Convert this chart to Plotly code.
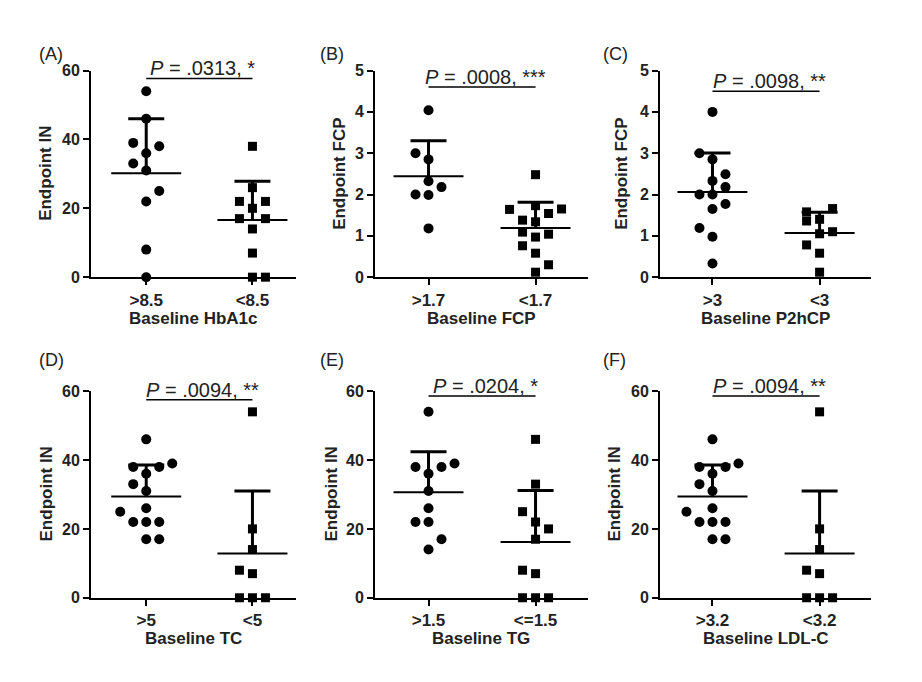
import numpy as np
import plotly.graph_objects as go

# ---------------- data ----------------
panel_labels = ["(A)", "(B)", "(C)", "(D)", "(E)", "(F)"]
x_titles = ["Baseline HbA1c", "Baseline FCP", "Baseline P2hCP",
            "Baseline TC", "Baseline TG", "Baseline LDL-C"]
y_titles = ["Endpoint IN", "Endpoint FCP", "Endpoint FCP",
            "Endpoint IN", "Endpoint IN", "Endpoint IN"]
p_texts = ["<i>P</i> = .0313, *", "<i>P</i> = .0008, ***", "<i>P</i> = .0098, **",
           "<i>P</i> = .0094, **", "<i>P</i> = .0204, *", "<i>P</i> = .0094, **"]

a_cats = [">8.5", "<8.5"]
a_hi = [54, 46, 39, 38, 36, 33, 31, 25, 22, 8, 0]
a_lo = [38, 26, 22, 22, 20, 17, 17, 14, 7, 0, 0]

b_cats = [">1.7", "<1.7"]
b_hi = [4.04, 3.0, 2.85, 2.32, 2.18, 2.0, 1.99, 1.18]
b_lo = [2.48, 1.73, 1.64, 1.65, 1.54, 1.38, 1.34, 1.09, 1.04, 0.97, 0.76, 0.58, 0.30, 0.12]

c_cats = [">3", "<3"]
c_hi = [4.0, 3.0, 2.85, 2.49, 2.33, 2.18, 2.0, 2.0, 1.77, 1.65, 1.19, 0.98, 0.33]
c_lo = [1.58, 1.66, 1.40, 1.36, 1.05, 1.10, 0.78, 0.58, 0.12]

d_cats = [">5", "<5"]
d_hi = [46, 39, 38, 38, 36, 33, 31, 26, 25, 22, 22, 22, 17, 17]
d_lo = [54, 20, 14, 8, 7, 0, 0, 0]

e_cats = [">1.5", "<=1.5"]
e_hi = [54, 39, 38, 38, 36, 31, 26, 22, 22, 17, 14]
e_lo = [46, 33, 25, 22, 20, 17, 8, 7, 0, 0, 0]

f_cats = [">3.2", "<3.2"]
f_hi = [46, 39, 38, 38, 36, 33, 31, 26, 25, 22, 22, 22, 17, 17]
f_lo = [54, 20, 14, 8, 7, 0, 0, 0]

y_tick_in = [0, 20, 40, 60]
y_tick_fcp = [0, 1, 2, 3, 4, 5]

# ---------------- layout (beeswarm slots, positions) ----------------
a_hi_slot = [0, 0, -1, 1, 0, -1, 0, 1, 0, 0, 0]
a_lo_slot = [0, 0, -1, 1, 0, -1, 1, 0, 0, 0, 1]
b_hi_slot = [0, -1, 0, 0, 1, -1, 0, 0]
b_lo_slot = [0, 0, -2, 2, 1, -1, 0, -1, 1, 0, -1, 0, 1, 0]
c_hi_slot = [0, -1, 0, 1, 0, 1, -1, 0, 1, 0, -1, 0, 0]
c_lo_slot = [-1, 1, 0, -1, 0, 1, -1, 0, 0]
d_hi_slot = [0, 2, -1, 1, 0, -1, 0, 0, -2, -1, 0, 1, 0, 1]
d_lo_slot = [0, 0, 0, -1, 0, -1, 0, 1]
e_hi_slot = [0, 2, -1, 1, 0, 0, 0, -1, 0, 1, 0]
e_lo_slot = [0, 0, -1, 0, 1, 0, -1, 0, -1, 0, 1]
f_hi_slot = d_hi_slot
f_lo_slot = d_lo_slot

panels = [
    (a_cats, a_hi, a_lo, a_hi_slot, a_lo_slot, y_tick_in, 60, 57.7),
    (b_cats, b_hi, b_lo, b_hi_slot, b_lo_slot, y_tick_fcp, 5, 4.6),
    (c_cats, c_hi, c_lo, c_hi_slot, c_lo_slot, y_tick_fcp, 5, 4.5),
    (d_cats, d_hi, d_lo, d_hi_slot, d_lo_slot, y_tick_in, 60, 57.5),
    (e_cats, e_hi, e_lo, e_hi_slot, e_lo_slot, y_tick_in, 60, 58.6),
    (f_cats, f_hi, f_lo, f_hi_slot, f_lo_slot, y_tick_in, 60, 58.6),
]

# page body has an 8px default margin; figure is sized to fit inside it
OFF = 8
W, H = 922 - 2 * OFF, 682 - 2 * OFF


def px_x(p):
    return (p - OFF) / W


def px_y(p):
    return 1 - (p - OFF) / H


col_px = [(91, 296), (375, 588), (660, 871)]
col_range = [(0.48, 2.41), (0.50, 2.49), (0.51, 2.48)]
row_px = [(64, 276), (393, 605)]
ytitle_off = [45, 35, 38, 45, 44, 46]
label_px = [(37, 47), (318, 47), (601, 47), (37, 361), (318, 361), (601, 361)]

FONT = "Arial, Liberation Sans, Helvetica, sans-serif"
TXT = "#222222"

fig = go.Figure()
layout = dict(width=W, height=H, margin=dict(l=0, r=0, t=0, b=0),
              paper_bgcolor="white", plot_bgcolor="white", showlegend=False,
              font=dict(family=FONT, color=TXT))
annotations = []
shapes = []

for i, (cats, hi, lo, hs, ls, yticks, ymax, pline) in enumerate(panels):
    r, c = divmod(i, 3)
    x0, x1 = col_px[c]
    y0, y1 = row_px[r]
    rng = col_range[c]
    ppu = (x1 - x0) / (rng[1] - rng[0])  # px per x unit
    dx = 13.0 / ppu
    mean_hw = 35.0 / ppu
    cap_hw = 18.0 / ppu
    sfx = "" if i == 0 else str(i + 1)
    xa, ya = "x" + sfx, "y" + sfx

    layout["xaxis" + sfx] = dict(
        domain=[px_x(x0), px_x(x1)], range=list(rng), anchor=ya,
        tickmode="array", tickvals=[1, 2], ticktext=cats,
        ticks="outside", ticklen=6, tickwidth=2, tickcolor="black",
        showline=True, linecolor="black", linewidth=2, showgrid=False, zeroline=False,
        tickfont=dict(size=17, weight="bold", color=TXT, family=FONT), fixedrange=True)
    layout["yaxis" + sfx] = dict(
        domain=[px_y(y1), px_y(y0)], range=[0, ymax], anchor=xa,
        tickmode="array", tickvals=yticks,
        ticks="outside", ticklen=6, tickwidth=2, tickcolor="black",
        showline=True, linecolor="black", linewidth=2, showgrid=False, zeroline=False,
        tickfont=dict(size=16, weight="bold", color=TXT, family=FONT), fixedrange=True)

    groups = [(1, hi, hs, "circle", 10), (2, lo, ls, "square", 9)]
    mx, my, sx, sy = [], [], [], []
    for pos, vals, slots, sym, size in groups:
        v = np.array(vals, dtype=float)
        m = v.mean()
        sd = v.std(ddof=1)
        mx += [pos - mean_hw, pos + mean_hw, None]
        my += [m, m, None]
        sx += [pos, pos, None, pos - cap_hw, pos + cap_hw, None]
        sy += [m, m + sd, None, m + sd, m + sd, None]
        fig.add_trace(go.Scatter(
            x=[pos + s * dx for s in slots], y=vals, mode="markers",
            marker=dict(symbol=sym, size=size, color="black", line=dict(width=0)),
            xaxis=xa, yaxis=ya, cliponaxis=False, hoverinfo="y"))
    fig.add_trace(go.Scatter(x=mx, y=my, mode="lines", line=dict(color="black", width=2),
                             xaxis=xa, yaxis=ya, cliponaxis=False, hoverinfo="skip"))
    fig.add_trace(go.Scatter(x=sx, y=sy, mode="lines", line=dict(color="black", width=3),
                             xaxis=xa, yaxis=ya, cliponaxis=False, hoverinfo="skip"))

    # significance bracket
    shapes.append(dict(type="line", xref=xa, yref=ya, x0=1, x1=2, y0=pline, y1=pline,
                       line=dict(color="black", width=1.5)))
    annotations.append(dict(xref=xa, yref=ya, x=1.53, y=pline, text=p_texts[i],
                            showarrow=False, xanchor="center", yanchor="bottom", yshift=-3,
                            font=dict(size=20, color=TXT, family=FONT)))
    # axis titles
    annotations.append(dict(xref="paper", yref="paper", x=px_x(x0 - ytitle_off[i]),
                            y=px_y((y0 + y1) / 2), text=y_titles[i], textangle=-90,
                            showarrow=False, xanchor="center", yanchor="middle",
                            font=dict(size=17, weight="bold", color=TXT, family=FONT)))
    annotations.append(dict(xref="paper", yref="paper", x=px_x((x0 + x1) / 2),
                            y=px_y(y1 + 42), text=x_titles[i],
                            showarrow=False, xanchor="center", yanchor="middle",
                            font=dict(size=17, weight="bold", color=TXT, family=FONT)))
    lx, ly = label_px[i]
    annotations.append(dict(xref="paper", yref="paper", x=px_x(lx), y=px_y(ly),
                            text=panel_labels[i], showarrow=False,
                            xanchor="left", yanchor="middle",
                            font=dict(size=18, color=TXT, family=FONT)))

layout["annotations"] = annotations
layout["shapes"] = shapes
fig.update_layout(**layout)
fig.write_html("out.html")
